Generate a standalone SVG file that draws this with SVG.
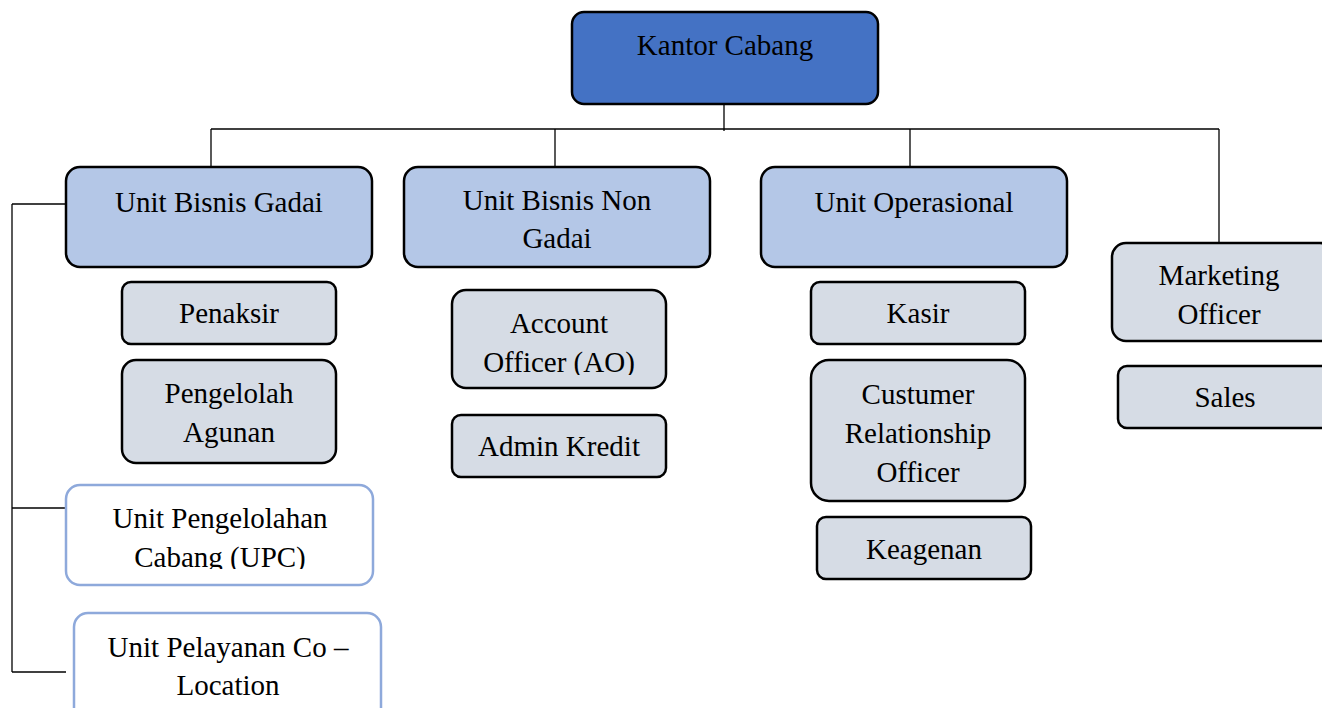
<svg xmlns="http://www.w3.org/2000/svg" width="1322" height="708" viewBox="0 0 1322 708">
<defs>
<style>
.t{font-family:"Liberation Serif","Times New Roman",serif;font-size:29px;fill:#000;text-anchor:middle}
.top{fill:#4472C4;stroke:#000;stroke-width:2.5}
.unit{fill:#B4C7E7;stroke:#000;stroke-width:2.5}
.sub{fill:#D6DCE5;stroke:#000;stroke-width:2.5}
.open{fill:#fff;stroke:#8EA9DB;stroke-width:2.5}
.c{stroke:#000;stroke-width:1.3;fill:none}
</style>
<clipPath id="cAO"><rect x="452" y="290" width="214" height="85"/></clipPath>
<clipPath id="cUPC"><rect x="66" y="485" width="307" height="84"/></clipPath>
</defs>
<g id="connectors">
<line class="c" x1="724" y1="104" x2="724" y2="131"/>
<line class="c" x1="211" y1="129" x2="1219" y2="129"/>
<line class="c" x1="211" y1="129" x2="211" y2="167"/>
<line class="c" x1="555" y1="129" x2="555" y2="167"/>
<line class="c" x1="910" y1="129" x2="910" y2="167"/>
<line class="c" x1="1219" y1="129" x2="1219" y2="243"/>
<line class="c" x1="12" y1="204" x2="12" y2="672"/>
<line class="c" x1="12" y1="204" x2="66" y2="204"/>
<line class="c" x1="12" y1="508" x2="66" y2="508"/>
<line class="c" x1="12" y1="672" x2="66" y2="672"/>
</g>
<g id="kantor-cabang">
<rect class="top" x="572" y="12" width="306" height="92" rx="12"/>
<text class="t" x="725" y="55">Kantor Cabang</text>
</g>
<g id="unit-bisnis-gadai">
<rect class="unit" x="66" y="167" width="306" height="100" rx="14"/>
<text class="t" x="219" y="212">Unit Bisnis Gadai</text>
</g>
<g id="unit-bisnis-non-gadai">
<rect class="unit" x="404" y="167" width="306" height="100" rx="14"/>
<text class="t" x="557" y="210">Unit Bisnis Non</text>
<text class="t" x="557" y="248">Gadai</text>
</g>
<g id="unit-operasional">
<rect class="unit" x="761" y="167" width="306" height="100" rx="14"/>
<text class="t" x="914" y="212">Unit Operasional</text>
</g>
<g id="marketing-officer">
<rect class="sub" x="1112" y="243" width="222" height="98" rx="14"/>
<text class="t" x="1219" y="285">Marketing</text>
<text class="t" x="1219" y="324">Officer</text>
</g>
<g id="sales">
<rect class="sub" x="1118" y="366" width="216" height="62" rx="9"/>
<text class="t" x="1225" y="407">Sales</text>
</g>
<g id="penaksir">
<rect class="sub" x="122" y="282" width="214" height="62" rx="9"/>
<text class="t" x="229" y="323">Penaksir</text>
</g>
<g id="pengelolah-agunan">
<rect class="sub" x="122" y="360" width="214" height="103" rx="14"/>
<text class="t" x="229" y="403">Pengelolah</text>
<text class="t" x="229" y="442">Agunan</text>
</g>
<g id="upc">
<rect class="open" x="66" y="485" width="307" height="100" rx="14"/>
<g clip-path="url(#cUPC)">
<text class="t" x="220" y="528">Unit Pengelolahan</text>
<text class="t" x="220" y="567">Cabang (UPC)</text>
</g>
</g>
<g id="unit-pelayanan">
<rect class="open" x="74" y="613" width="307" height="110" rx="14"/>
<text class="t" x="228" y="657">Unit Pelayanan Co –</text>
<text class="t" x="228" y="695">Location</text>
</g>
<g id="account-officer">
<rect class="sub" x="452" y="290" width="214" height="98" rx="14"/>
<g clip-path="url(#cAO)">
<text class="t" x="559" y="333">Account</text>
<text class="t" x="559" y="372">Officer (AO)</text>
</g>
</g>
<g id="admin-kredit">
<rect class="sub" x="452" y="415" width="214" height="62" rx="9"/>
<text class="t" x="559" y="456">Admin Kredit</text>
</g>
<g id="kasir">
<rect class="sub" x="811" y="282" width="214" height="62" rx="9"/>
<text class="t" x="918" y="323">Kasir</text>
</g>
<g id="cro">
<rect class="sub" x="811" y="360" width="214" height="141" rx="18"/>
<text class="t" x="918" y="404">Custumer</text>
<text class="t" x="918" y="443">Relationship</text>
<text class="t" x="918" y="482">Officer</text>
</g>
<g id="keagenan">
<rect class="sub" x="817" y="517" width="214" height="62" rx="9"/>
<text class="t" x="924" y="559">Keagenan</text>
</g>
</svg>
